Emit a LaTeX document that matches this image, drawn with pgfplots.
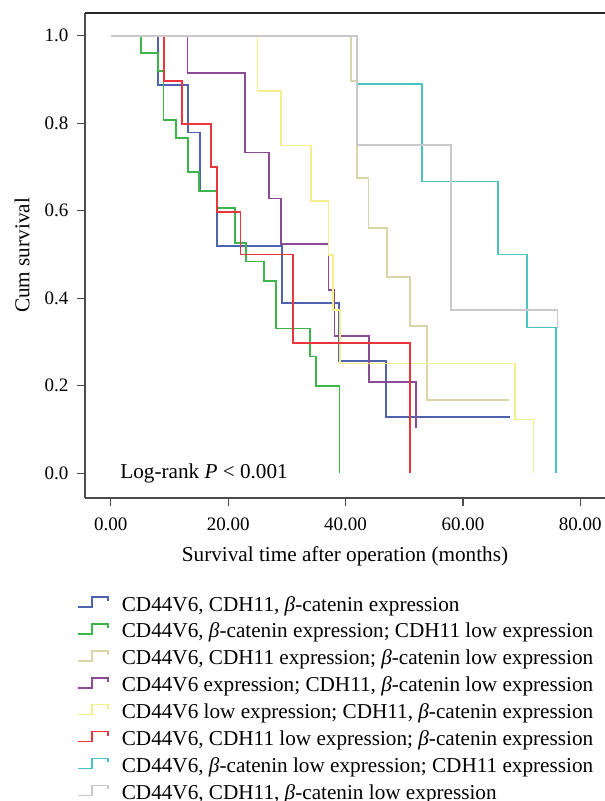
\documentclass[border=0pt]{standalone}
\usepackage{fontspec}
\setmainfont{Liberation Serif}
\usepackage{pgfplots}
\pgfplotsset{compat=1.18}

\definecolor{kmblue}{HTML}{4E63B0}
\definecolor{kmgreen}{HTML}{3DB54A}
\definecolor{kmkhaki}{HTML}{D8D5A6}
\definecolor{kmpurple}{HTML}{8A4A94}
\definecolor{kmyellow}{HTML}{F3EE8E}
\definecolor{kmred}{HTML}{E8363C}
\definecolor{kmcyan}{HTML}{4CC3C3}
\definecolor{kmgrey}{HTML}{C9C9C9}

\newcommand{\fs}{\fontsize{21.2bp}{24bp}\selectfont}
\newcommand{\fst}{\fontsize{19bp}{21bp}\selectfont}

\begin{document}
\begin{tikzpicture}
\begin{axis}[
    name=ax,
    scale only axis,
    width=520bp, height=485bp,
    xmin=-4.4, xmax=84.2,
    ymin=-0.0565, ymax=1.052,
    axis x line*=bottom,
    axis y line*=left,
    axis line style={line width=1.2bp, black!70},
    tick style={line width=1.2bp, black!70},
    tick align=outside,
    major tick length=8bp,
    xtick={0,20,40,60,80},
    ytick={0,0.2,0.4,0.6,0.8,1.0},
    /pgf/number format/assume math mode=true,
    xticklabel style={yshift=-8bp, /pgf/number format/.cd, fixed, fixed zerofill, precision=2},
    yticklabel style={xshift=-5bp, /pgf/number format/.cd, fixed, fixed zerofill, precision=1},
    tick label style={font=\fst},
    xlabel={Survival time after operation (months)},
    ylabel={Cum survival},
    every axis x label/.style={at={(axis description cs:0.5,-0.121)}, anchor=center, font=\fs},
    every axis y label/.style={at={(axis description cs:-0.121,0.5)}, anchor=center, rotate=90, font=\fs},
    const plot,
    every axis plot/.append style={line width=1.8bp, mark=none},
    legend cell align=left,
    legend style={
        at={(axis description cs:-0.0211,-0.198)}, anchor=north west,
        draw=none, fill=none, font=\fs,
        nodes={inner sep=0pt, text height=14bp, text depth=4bp},
        row sep=8.1bp, column sep=13bp,
    },
    legend image code/.code={
        \draw[#1, line width=1.6bp] (0bp,-1bp) -- (14bp,-1bp) -- (14bp,9bp) -- (30bp,9bp) -- (30bp,5bp);
    },
]

% CD44V6, CDH11, beta-catenin expression
\addplot[kmblue] coordinates {(0,1) (8.06,0.888) (13.1,0.779) (15.2,0.646) (18.1,0.519) (29.2,0.390) (38.9,0.257) (46.95,0.129) (68.0,0.129)};
\addlegendentry{CD44V6, CDH11, \textit{β}-catenin expression}

% CD44V6, beta-catenin expression; CDH11 low
\addplot[kmgreen] coordinates {(0,1) (5.1,0.96) (8.06,0.92) (8.97,0.807) (11.1,0.767) (13.1,0.689) (15.0,0.646) (18.1,0.607) (21.2,0.526) (23.0,0.484) (26.1,0.44) (28.1,0.331) (33.95,0.267) (35.0,0.2) (38.95,0)};
\addlegendentry{CD44V6, \textit{β}-catenin expression; CDH11 low expression}

% CD44V6, CDH11 expression; beta-catenin low
\addplot[kmkhaki] coordinates {(0,1) (40.9,0.897) (42.0,0.674) (43.9,0.56) (47.1,0.449) (51.0,0.337) (53.9,0.168) (67.9,0.168)};
\addlegendentry{CD44V6, CDH11 expression; \textit{β}-catenin low expression}

% CD44V6 expression; CDH11, beta-catenin low
\addplot[kmpurple] coordinates {(0,1) (13.05,0.914) (22.9,0.733) (27.0,0.628) (28.96,0.524) (37.1,0.419) (38.1,0.314) (44.0,0.209) (52.0,0.103)};
\addlegendentry{CD44V6 expression; CDH11, \textit{β}-catenin low expression}

% CD44V6 low; CDH11, beta-catenin expression
\addplot[kmyellow] coordinates {(0,1) (25.0,0.873) (28.96,0.749) (34.07,0.623) (37.1,0.499) (37.9,0.373) (39.1,0.251) (68.9,0.123) (72.0,0)};
\addlegendentry{CD44V6 low expression; CDH11, \textit{β}-catenin expression}

% CD44V6, CDH11 low; beta-catenin expression
\addplot[kmred] coordinates {(0,1) (9.0,0.897) (12.1,0.798) (17.1,0.70) (18.05,0.598) (22.1,0.5) (31.1,0.297) (51.0,0)};
\addlegendentry{CD44V6, CDH11 low expression; \textit{β}-catenin expression}

% CD44V6, beta-catenin low; CDH11 expression
\addplot[kmcyan] coordinates {(0,1) (42.0,0.889) (53.0,0.667) (66.0,0.5) (70.9,0.333) (75.9,0)};
\addlegendentry{CD44V6, \textit{β}-catenin low expression; CDH11 expression}

% CD44V6, CDH11, beta-catenin low
\addplot[kmgrey] coordinates {(0,1) (42.0,0.75) (58.0,0.373) (76.1,0.331)};
\addlegendentry{CD44V6, CDH11, \textit{β}-catenin low expression}

\draw[line width=1.2bp, black!85] (rel axis cs:0,1) -- (rel axis cs:1,1);
\node[anchor=west, font=\fs, inner sep=0pt] at (axis cs:1.6,0) {Log-rank \textit{P} < 0.001};
\end{axis}
\pgfresetboundingbox
\path ([xshift=-85bp,yshift=-303bp]ax.south west) rectangle ([yshift=13bp]ax.north east);
\end{tikzpicture}
\end{document}
